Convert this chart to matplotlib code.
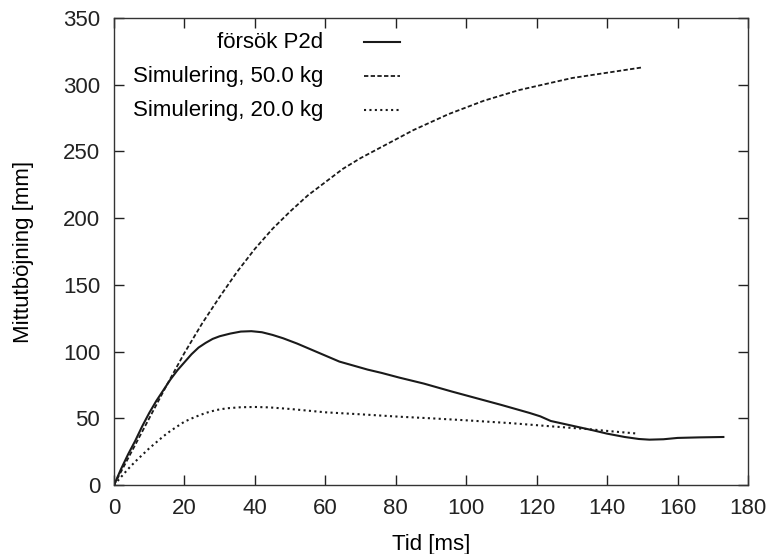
import matplotlib
matplotlib.use("Agg")
import matplotlib.pyplot as plt

plt.rcParams['font.family'] = ['Liberation Sans', 'DejaVu Sans']

# försök P2d (measured)
t_exp = [0, 2, 4, 6, 8, 10, 12, 14, 16, 18, 20, 22, 24, 26, 28, 30, 33, 36, 39, 42, 45, 48, 52, 56, 60, 64, 68, 72, 76, 81, 88, 96, 103, 110, 118, 121, 124, 130, 136, 140, 145, 149, 152, 156, 160, 166, 173]
y_exp = [0, 12, 23, 33, 44, 54, 63, 71, 79, 86, 92, 98, 103, 106.5, 109.5, 111.5, 113.5, 115, 115.3, 114.5, 112.5, 110, 106, 101.5, 97, 92.5, 89.5, 86.5, 84, 80.5, 76, 70, 65, 60, 54, 51.5, 48, 44.5, 41, 38.5, 36, 34.5, 34, 34.3, 35.3, 35.7, 36]

# Simulering, 50.0 kg
t_50 = [0, 5, 10, 15, 20, 25, 30, 35, 40, 45, 50, 55, 60, 65, 70, 75, 80, 85, 90, 95, 100, 105, 110, 115, 120, 125, 130, 135, 140, 145, 150]
y_50 = [0, 25, 50, 75, 99, 121, 141, 160, 177, 192, 205, 217, 227, 237, 245, 252, 259, 266, 272, 278, 283, 288, 292, 296, 299, 302, 305, 307, 309, 311, 313]

# Simulering, 20.0 kg
t_20 = [0, 2, 4, 6, 8, 10, 12, 14, 16, 18, 20, 23, 26, 29, 32, 36, 40, 44, 50, 60, 70, 81, 90, 100, 113, 125, 135, 141, 148]
y_20 = [0, 6, 12, 17.5, 22.5, 27.5, 32, 36.5, 40.5, 44, 47.5, 51, 54, 56.2, 57.5, 58.3, 58.5, 58.2, 57, 54.5, 53, 51.2, 50, 48.5, 46.3, 43.8, 41.8, 40.3, 38.7]

labels = ['försök P2d', 'Simulering, 50.0 kg', 'Simulering, 20.0 kg']
xticks = [0, 20, 40, 60, 80, 100, 120, 140, 160, 180]
yticks = [0, 50, 100, 150, 200, 250, 300, 350]

fig = plt.figure(figsize=(7.75, 5.54), dpi=100)
ax = fig.add_axes([0.1471, 0.1245, 0.8181, 0.843])

col = '#1a1a1a'
styles = [
    dict(linestyle='-', linewidth=1.5),
    dict(linestyle=(0, (2.4, 1.3)), linewidth=1.3),
    dict(linestyle=(0, (1.0, 1.6)), linewidth=1.5),
]
series = [(t_exp, y_exp), (t_50, y_50), (t_20, y_20)]
for (xs, ys), st in zip(series, styles):
    ax.plot(xs, ys, color=col, **st)

ax.set_xlim(0, 180)
ax.set_ylim(0, 350)
ax.set_xticks(xticks)
ax.set_yticks(yticks)
ax.tick_params(direction='in', length=7, width=1, top=True, right=True,
               labelsize=16, colors='#222222')
ax.tick_params(axis='x', pad=9)
ax.tick_params(axis='y', pad=10)
for s in ax.spines.values():
    s.set_linewidth(1)
    s.set_color('#333333')
ax.set_xlabel('Tid [ms]', fontsize=16, labelpad=11)
ax.set_ylabel('Mittutböjning [mm]', fontsize=16, labelpad=21)

# gnuplot-style key: right-aligned text, sample line to the right
ys_key = [0.9486, 0.8758, 0.803]
for lab, yk, st in zip(labels, ys_key, styles):
    ax.text(0.3297, yk, lab, transform=ax.transAxes, ha='right', va='center', fontsize=16)
    ax.plot([0.3943, 0.4511], [yk, yk], transform=ax.transAxes, color=col, **st)

fig.savefig('out.png', dpi=100)
